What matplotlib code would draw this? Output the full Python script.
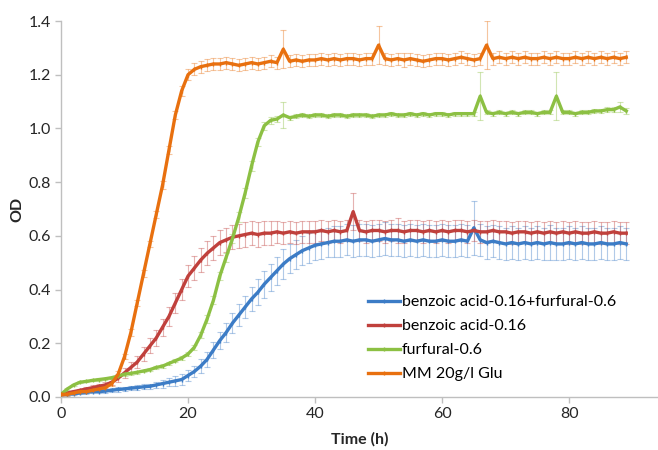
import numpy as np
import matplotlib
matplotlib.use('Agg')
import matplotlib.pyplot as plt

plt.rcParams['font.family'] = ['Lato', 'DejaVu Sans']

# time in hours, one reading per hour
time_h = list(range(0, 90))

# benzoic acid-0.16+furfural-0.6
od_mix = [0.010, 0.010, 0.012, 0.015, 0.017, 0.020, 0.020, 0.022, 0.025, 0.028,
          0.030, 0.033, 0.035, 0.038, 0.040, 0.045, 0.050, 0.055, 0.060, 0.065,
          0.080, 0.095, 0.115, 0.140, 0.175, 0.210, 0.240, 0.275, 0.305, 0.335,
          0.365, 0.390, 0.420, 0.445, 0.470, 0.495, 0.515, 0.530, 0.545, 0.555,
          0.565, 0.570, 0.575, 0.580, 0.580, 0.585, 0.580, 0.585, 0.585, 0.580,
          0.585, 0.590, 0.585, 0.585, 0.580, 0.585, 0.580, 0.585, 0.580, 0.580,
          0.585, 0.580, 0.580, 0.585, 0.580, 0.630, 0.585, 0.575, 0.580, 0.575,
          0.570, 0.575, 0.570, 0.575, 0.570, 0.575, 0.570, 0.575, 0.570, 0.570,
          0.575, 0.570, 0.575, 0.570, 0.570, 0.575, 0.570, 0.570, 0.575, 0.570]
err_mix = [0.005, 0.005, 0.005, 0.005, 0.006, 0.006, 0.006, 0.007, 0.007, 0.008,
           0.008, 0.008, 0.009, 0.010, 0.010, 0.012, 0.015, 0.015, 0.018, 0.020,
           0.020, 0.022, 0.025, 0.028, 0.030, 0.032, 0.035, 0.038, 0.040, 0.042,
           0.045, 0.048, 0.050, 0.050, 0.052, 0.055, 0.055, 0.055, 0.055, 0.055,
           0.055, 0.055, 0.055, 0.058, 0.058, 0.058, 0.060, 0.060, 0.060, 0.060,
           0.060, 0.060, 0.060, 0.060, 0.060, 0.060, 0.060, 0.060, 0.060, 0.060,
           0.060, 0.060, 0.060, 0.060, 0.060, 0.100, 0.060, 0.060, 0.060, 0.060,
           0.060, 0.060, 0.060, 0.060, 0.060, 0.060, 0.060, 0.065, 0.060, 0.060,
           0.060, 0.060, 0.060, 0.060, 0.060, 0.060, 0.060, 0.060, 0.060, 0.060]

# benzoic acid-0.16
od_benz = [0.010, 0.015, 0.020, 0.025, 0.030, 0.035, 0.040, 0.045, 0.055, 0.070,
           0.090, 0.110, 0.130, 0.160, 0.190, 0.220, 0.260, 0.300, 0.350, 0.400,
           0.450, 0.480, 0.510, 0.535, 0.555, 0.575, 0.585, 0.595, 0.600, 0.605,
           0.610, 0.605, 0.610, 0.610, 0.615, 0.610, 0.615, 0.610, 0.615, 0.615,
           0.615, 0.620, 0.615, 0.620, 0.615, 0.620, 0.690, 0.620, 0.615, 0.620,
           0.620, 0.615, 0.620, 0.620, 0.615, 0.620, 0.620, 0.615, 0.620, 0.615,
           0.620, 0.615, 0.620, 0.620, 0.615, 0.620, 0.615, 0.615, 0.620, 0.615,
           0.615, 0.610, 0.615, 0.615, 0.610, 0.615, 0.610, 0.615, 0.610, 0.615,
           0.610, 0.615, 0.610, 0.610, 0.615, 0.610, 0.610, 0.615, 0.610, 0.610]
err_benz = [0.005, 0.005, 0.006, 0.006, 0.007, 0.008, 0.008, 0.010, 0.012, 0.015,
            0.018, 0.020, 0.022, 0.025, 0.028, 0.030, 0.032, 0.035, 0.038, 0.040,
            0.042, 0.045, 0.045, 0.045, 0.045, 0.045, 0.045, 0.045, 0.045, 0.045,
            0.045, 0.045, 0.045, 0.045, 0.042, 0.042, 0.042, 0.042, 0.040, 0.040,
            0.040, 0.040, 0.040, 0.040, 0.040, 0.040, 0.070, 0.040, 0.040, 0.040,
            0.040, 0.040, 0.040, 0.045, 0.040, 0.040, 0.040, 0.040, 0.040, 0.040,
            0.040, 0.040, 0.040, 0.040, 0.040, 0.040, 0.040, 0.040, 0.040, 0.040,
            0.040, 0.040, 0.040, 0.040, 0.040, 0.040, 0.040, 0.040, 0.040, 0.040,
            0.040, 0.040, 0.040, 0.040, 0.040, 0.040, 0.040, 0.040, 0.040, 0.040]

# furfural-0.6
od_furf = [0.010, 0.030, 0.045, 0.055, 0.058, 0.062, 0.065, 0.068, 0.072, 0.078,
           0.085, 0.088, 0.092, 0.097, 0.102, 0.110, 0.115, 0.125, 0.135, 0.145,
           0.160, 0.185, 0.230, 0.290, 0.360, 0.450, 0.520, 0.590, 0.670, 0.760,
           0.860, 0.950, 1.010, 1.030, 1.035, 1.050, 1.040, 1.045, 1.050, 1.045,
           1.050, 1.050, 1.045, 1.050, 1.050, 1.045, 1.050, 1.050, 1.050, 1.045,
           1.050, 1.050, 1.055, 1.050, 1.050, 1.055, 1.050, 1.055, 1.050, 1.055,
           1.055, 1.050, 1.055, 1.055, 1.055, 1.055, 1.120, 1.060, 1.055, 1.060,
           1.055, 1.060, 1.055, 1.060, 1.060, 1.055, 1.060, 1.060, 1.120, 1.060,
           1.060, 1.055, 1.060, 1.060, 1.065, 1.065, 1.070, 1.070, 1.080, 1.065]
err_furf = [0.003, 0.004, 0.004, 0.004, 0.004, 0.004, 0.004, 0.004, 0.004, 0.005,
            0.005, 0.005, 0.005, 0.005, 0.005, 0.005, 0.006, 0.006, 0.006, 0.007,
            0.008, 0.010, 0.012, 0.014, 0.015, 0.016, 0.018, 0.018, 0.018, 0.018,
            0.018, 0.016, 0.015, 0.012, 0.010, 0.050, 0.008, 0.008, 0.008, 0.008,
            0.008, 0.008, 0.008, 0.008, 0.008, 0.008, 0.008, 0.008, 0.008, 0.008,
            0.008, 0.008, 0.008, 0.008, 0.008, 0.008, 0.008, 0.008, 0.008, 0.008,
            0.008, 0.008, 0.008, 0.008, 0.008, 0.008, 0.090, 0.008, 0.008, 0.008,
            0.008, 0.008, 0.008, 0.008, 0.008, 0.008, 0.008, 0.008, 0.090, 0.008,
            0.008, 0.008, 0.008, 0.008, 0.008, 0.008, 0.008, 0.010, 0.020, 0.010]

# MM 20g/l Glu
od_mm = [0.010, 0.010, 0.015, 0.020, 0.020, 0.025, 0.030, 0.035, 0.050, 0.085,
         0.150, 0.240, 0.350, 0.460, 0.570, 0.680, 0.790, 0.920, 1.050, 1.140,
         1.200, 1.220, 1.230, 1.235, 1.240, 1.240, 1.245, 1.240, 1.235, 1.240,
         1.245, 1.240, 1.245, 1.250, 1.245, 1.295, 1.250, 1.255, 1.250, 1.255,
         1.255, 1.260, 1.255, 1.260, 1.255, 1.260, 1.260, 1.255, 1.260, 1.260,
         1.310, 1.260, 1.255, 1.260, 1.255, 1.260, 1.255, 1.250, 1.255, 1.260,
         1.260, 1.255, 1.260, 1.265, 1.260, 1.255, 1.260, 1.310, 1.260, 1.265,
         1.260, 1.265, 1.260, 1.265, 1.260, 1.260, 1.265, 1.260, 1.265, 1.260,
         1.260, 1.265, 1.260, 1.265, 1.260, 1.265, 1.260, 1.265, 1.260, 1.265]
err_mm = [0.005, 0.005, 0.005, 0.005, 0.005, 0.006, 0.006, 0.007, 0.008, 0.010,
          0.010, 0.012, 0.012, 0.012, 0.012, 0.012, 0.014, 0.015, 0.015, 0.018,
          0.020, 0.022, 0.022, 0.022, 0.022, 0.022, 0.022, 0.022, 0.022, 0.022,
          0.022, 0.022, 0.022, 0.022, 0.022, 0.070, 0.022, 0.022, 0.022, 0.022,
          0.022, 0.022, 0.022, 0.022, 0.022, 0.022, 0.022, 0.022, 0.022, 0.022,
          0.070, 0.022, 0.022, 0.022, 0.025, 0.022, 0.022, 0.022, 0.022, 0.022,
          0.022, 0.022, 0.022, 0.022, 0.022, 0.022, 0.022, 0.090, 0.022, 0.022,
          0.022, 0.022, 0.022, 0.022, 0.022, 0.022, 0.022, 0.022, 0.022, 0.022,
          0.022, 0.022, 0.022, 0.022, 0.022, 0.022, 0.022, 0.022, 0.022, 0.022]

labels = ['benzoic acid-0.16+furfural-0.6', 'benzoic acid-0.16',
          'furfural-0.6', 'MM 20g/l Glu']
colors = ['#3c7cc6', '#c0403c', '#8cc043', '#e8700f']
series = [(od_mix, err_mix), (od_benz, err_benz), (od_furf, err_furf), (od_mm, err_mm)]

fig = plt.figure(figsize=(6.58, 4.5), dpi=100)
ax = fig.add_axes([0.0927, 0.1178, 0.9073, 0.8355])

t = np.array(time_h)
handles = []
for (od, err), lab, col in zip(series, labels, colors):
    ax.errorbar(t, od, yerr=err, fmt='none', ecolor=col, elinewidth=0.8,
                capsize=2.5, capthick=0.8, alpha=0.4, zorder=2)
    h, = ax.plot(t, od, color=col, lw=2.4, marker='|', ms=3, mew=1,
                 label=lab, zorder=3)
    handles.append(h)

ax.set_xlim(0, 94)
ax.set_ylim(0, 1.4)
ax.set_xticks([0, 20, 40, 60, 80])
ax.set_yticks(np.arange(0, 1.41, 0.2))
ax.set_yticklabels(['%.1f' % v for v in np.arange(0, 1.41, 0.2)])

for s in ['top', 'right']:
    ax.spines[s].set_visible(False)
for s in ['left', 'bottom']:
    ax.spines[s].set_color('#bfbfbf')
    ax.spines[s].set_linewidth(1)
ax.tick_params(axis='both', colors='#bfbfbf', labelcolor='#262626',
               labelsize=11.5, length=4, width=1, direction='out')

ax.set_xlabel('Time (h)', fontsize=11.5, fontweight='bold', color='#262626', labelpad=8)
ax.set_ylabel('OD', fontsize=11.5, fontweight='bold', color='#262626', labelpad=3)

ax.legend(handles=handles, loc='upper left', bbox_to_anchor=(368 / 658, 1 - 295 / 450),
          bbox_transform=fig.transFigure, frameon=False, fontsize=11.5,
          handlelength=2.0, handletextpad=0.1, labelspacing=0.62, numpoints=1,
          borderaxespad=0, borderpad=0)

fig.savefig('out.png', dpi=100)
